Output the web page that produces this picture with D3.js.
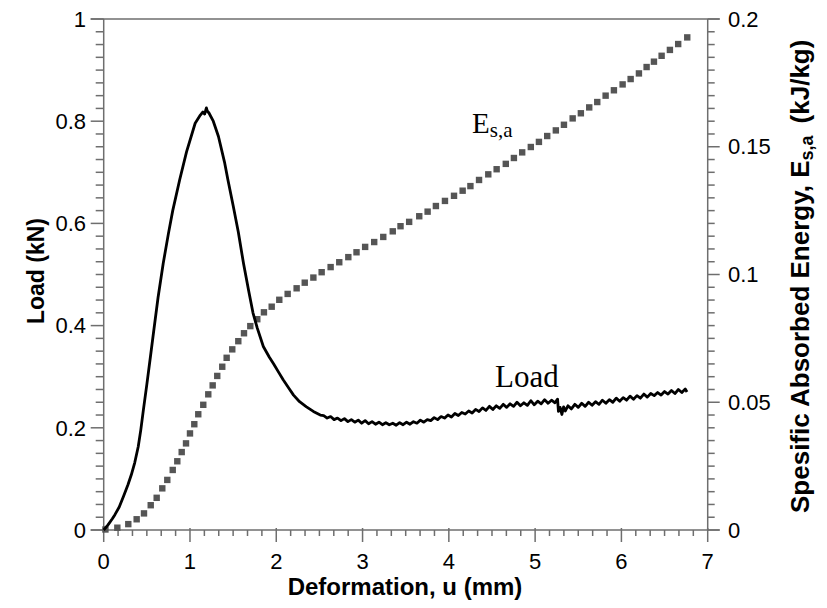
<!DOCTYPE html>
<html>
<head>
<meta charset="utf-8">
<script src="https://cdn.jsdelivr.net/npm/d3@7"></script>
<style>
  body { margin: 0; background: #fff; }
  .sans { font-family: Arial, "Liberation Sans", sans-serif; }
  .serif { font-family: "Times New Roman", "Liberation Serif", serif; }
</style>
</head>
<body>
<svg id="chart" width="827" height="608"></svg>
<script>
// load curve, deformation u (mm) vs load (kN)
const loadU = [0, 0.05, 0.1, 0.13, 0.18, 0.23, 0.28, 0.32, 0.36, 0.4, 0.43, 0.46, 0.5, 0.54, 0.58,
  0.63, 0.69, 0.75, 0.8, 0.88, 0.96, 1.06, 1.12, 1.15, 1.17, 1.19, 1.2, 1.22, 1.27, 1.33, 1.4, 1.44, 1.5,
  1.56, 1.62, 1.68, 1.73, 1.78, 1.85, 1.92, 1.97, 2.03, 2.08, 2.14, 2.2, 2.27, 2.35, 2.43, 2.51,
  2.55, 2.59, 2.63, 2.67, 2.71, 2.75, 2.79, 2.83, 2.87, 2.91, 2.95, 2.99, 3.03, 3.07, 3.11, 3.15, 3.19,
  3.23, 3.27, 3.31, 3.35, 3.39, 3.43, 3.47, 3.51, 3.55, 3.59, 3.63, 3.67, 3.71, 3.75, 3.79, 3.83, 3.87,
  3.91, 3.95, 3.99, 4.03, 4.07, 4.11, 4.15, 4.19, 4.23, 4.27, 4.31, 4.35, 4.39, 4.43, 4.47, 4.51, 4.55,
  4.59, 4.63, 4.67, 4.71, 4.75, 4.79, 4.83, 4.87, 4.91, 4.95, 4.99, 5.03, 5.07, 5.11, 5.15, 5.19, 5.23,
  5.26, 5.27, 5.29, 5.31, 5.33, 5.35, 5.38, 5.42, 5.46, 5.5, 5.54, 5.58, 5.62, 5.66, 5.7, 5.74, 5.78,
  5.82, 5.86, 5.9, 5.94, 5.98, 6.02, 6.06, 6.1, 6.14, 6.18, 6.22, 6.26, 6.3, 6.34, 6.38, 6.42, 6.46,
  6.5, 6.54, 6.58, 6.62, 6.66, 6.7, 6.74, 6.76];
const loadKN = [0, 0.01, 0.022, 0.03, 0.045, 0.066, 0.088, 0.108, 0.132, 0.163, 0.196, 0.235, 0.285, 0.337, 0.39,
  0.455, 0.522, 0.58, 0.625, 0.685, 0.74, 0.796, 0.812, 0.818, 0.814, 0.826, 0.82, 0.816, 0.8, 0.77, 0.72, 0.685, 0.635,
  0.583, 0.522, 0.468, 0.425, 0.395, 0.359, 0.338, 0.325, 0.308, 0.294, 0.279, 0.264, 0.251, 0.241, 0.232, 0.225,
  0.224, 0.219, 0.222, 0.216, 0.219, 0.214, 0.218, 0.212, 0.216, 0.211, 0.215, 0.209, 0.214, 0.208, 0.212, 0.207,
  0.211, 0.206, 0.21, 0.206, 0.209, 0.205, 0.21, 0.206, 0.211, 0.207, 0.212, 0.209, 0.215, 0.211, 0.216, 0.214,
  0.22, 0.216, 0.222, 0.219, 0.225, 0.221, 0.228, 0.224, 0.23, 0.227, 0.233, 0.229, 0.236, 0.232, 0.239, 0.234,
  0.242, 0.236, 0.243, 0.238, 0.246, 0.24, 0.247, 0.242, 0.25, 0.243, 0.249, 0.244, 0.253, 0.245, 0.252, 0.247,
  0.255, 0.248, 0.254, 0.249, 0.256, 0.232, 0.24, 0.226, 0.241, 0.233, 0.243, 0.237, 0.246, 0.24, 0.248, 0.242,
  0.25, 0.244, 0.251, 0.246, 0.254, 0.248, 0.255, 0.25, 0.258, 0.252, 0.259, 0.254, 0.262, 0.256, 0.263, 0.258,
  0.266, 0.26, 0.267, 0.263, 0.269, 0.264, 0.271, 0.266, 0.273, 0.267, 0.275, 0.269, 0.276, 0.27];

// specific absorbed energy markers, u (mm) vs E (kJ/kg)
const energyU = [0.02, 0.158, 0.285, 0.382, 0.467, 0.545, 0.614, 0.679, 0.737, 0.8, 0.853, 0.904, 0.954, 1.0,
  1.05, 1.096, 1.154, 1.212, 1.263, 1.316, 1.374, 1.425, 1.49, 1.56, 1.626, 1.699, 1.78, 1.857, 1.947, 2.035,
  2.132, 2.236, 2.33, 2.43, 2.526, 2.63, 2.73, 2.835, 2.93, 3.03, 3.135, 3.24, 3.35, 3.44, 3.54, 3.657, 3.754,
  3.85, 3.955, 4.06, 4.16, 4.25, 4.35, 4.457, 4.554, 4.66, 4.754, 4.85, 4.95, 5.044, 5.14, 5.24, 5.334, 5.435,
  5.53, 5.627, 5.72, 5.817, 5.913, 6.014, 6.107, 6.203, 6.292, 6.377, 6.466, 6.562, 6.658, 6.763];
const energyE = [0.0002, 0.0009, 0.0023, 0.0042, 0.0065, 0.0097, 0.0126, 0.0163, 0.0196, 0.0235, 0.0269, 0.0305,
  0.0339, 0.0378, 0.0414, 0.0453, 0.049, 0.0531, 0.0566, 0.0603, 0.0639, 0.0674, 0.0707, 0.0739, 0.077, 0.0798,
  0.0825, 0.0852, 0.0874, 0.0901, 0.0924, 0.0946, 0.0968, 0.0988, 0.1009, 0.1029, 0.1048, 0.1068, 0.1087, 0.1108,
  0.1127, 0.1147, 0.1169, 0.1189, 0.1206, 0.1228, 0.1246, 0.1268, 0.1288, 0.1308, 0.1328, 0.1346, 0.137, 0.1392,
  0.1412, 0.1433, 0.1456, 0.1478, 0.1499, 0.1519, 0.1542, 0.1564, 0.1586, 0.1611, 0.1631, 0.1654, 0.1675, 0.17,
  0.1721, 0.1744, 0.1765, 0.1787, 0.1812, 0.1833, 0.1856, 0.1879, 0.1902, 0.1928];

const xTicks = [0, 1, 2, 3, 4, 5, 6, 7];
const yLeftTicks = [0, 0.2, 0.4, 0.6, 0.8, 1];
const yRightTicks = [0, 0.05, 0.1, 0.15, 0.2];

const svg = d3.select('#chart');
const axisColor = '#6e6e6e';

// plot frame
const plotL = 103.7, plotR = 707.7, plotT = 19, plotB = 530;

const x = d3.scaleLinear().domain([0, 7]).range([plotL, plotR]);
const yL = d3.scaleLinear().domain([0, 1]).range([plotB, plotT]);
const yR = d3.scaleLinear().domain([0, 0.2]).range([plotB, plotT]);

// minor ticks
const xMinor = d3.range(0, 42).map(i => i / 6).filter((v, i) => i % 6 !== 0);
const yLMinor = d3.range(0, 40).map(i => i * 0.025).filter((v, i) => i % 8 !== 0);
const yRMinor = d3.range(0, 40).map(i => i * 0.005).filter((v, i) => i % 10 !== 0);

const axes = svg.append('g')
    .attr('stroke', axisColor)
    .attr('stroke-width', 1.5)
    .attr('fill', 'none');

// frame lines (left, right, top, bottom)
axes.append('line').attr('x1', plotL).attr('x2', plotL).attr('y1', plotT).attr('y2', plotB);
axes.append('line').attr('x1', plotR).attr('x2', plotR).attr('y1', plotT).attr('y2', plotB + 1);
axes.append('line').attr('x1', plotL - 13).attr('x2', plotR + 12).attr('y1', plotT).attr('y2', plotT);
axes.append('line').attr('x1', plotL - 13).attr('x2', plotR + 12).attr('y1', plotB).attr('y2', plotB);

// x ticks, pointing down
axes.selectAll('.xmaj').data(xTicks).join('line')
    .attr('x1', d => x(d)).attr('x2', d => x(d))
    .attr('y1', plotB - 2).attr('y2', plotB + 12);
axes.selectAll('.xmin').data(xMinor).join('line')
    .attr('x1', d => x(d)).attr('x2', d => x(d))
    .attr('y1', plotB).attr('y2', plotB + 6);

// left y ticks
axes.selectAll('.ylmaj').data(yLeftTicks).join('line')
    .attr('x1', plotL - 13).attr('x2', plotL)
    .attr('y1', d => yL(d)).attr('y2', d => yL(d));
axes.selectAll('.ylmin').data(yLMinor).join('line')
    .attr('x1', plotL - 8).attr('x2', plotL)
    .attr('y1', d => yL(d)).attr('y2', d => yL(d));

// right y ticks
axes.selectAll('.yrmaj').data(yRightTicks).join('line')
    .attr('x1', plotR).attr('x2', plotR + 12)
    .attr('y1', d => yR(d)).attr('y2', d => yR(d));
axes.selectAll('.yrmin').data(yRMinor).join('line')
    .attr('x1', plotR).attr('x2', plotR + 7)
    .attr('y1', d => yR(d)).attr('y2', d => yR(d));

// tick labels
const fmt = d => String(d);
svg.append('g').attr('class', 'sans').selectAll('text').data(xTicks).join('text')
    .attr('x', d => x(d)).attr('y', 569)
    .attr('text-anchor', 'middle')
    .attr('font-size', 22)
    .text(fmt);
svg.append('g').attr('class', 'sans').selectAll('text').data(yLeftTicks).join('text')
    .attr('x', 86).attr('y', d => yL(d))
    .attr('dy', '0.35em')
    .attr('text-anchor', 'end')
    .attr('font-size', 22)
    .text(fmt);
svg.append('g').attr('class', 'sans').selectAll('text').data(yRightTicks).join('text')
    .attr('x', 728).attr('y', d => yR(d))
    .attr('dy', '0.35em')
    .attr('text-anchor', 'start')
    .attr('font-size', 22)
    .text(fmt);

// axis titles
svg.append('text').attr('class', 'sans')
    .attr('x', 405).attr('y', 595)
    .attr('text-anchor', 'middle')
    .attr('font-size', 24).attr('font-weight', 'bold')
    .text('Deformation, u (mm)');

svg.append('text').attr('class', 'sans')
    .attr('transform', 'translate(44,271) rotate(-90)')
    .attr('text-anchor', 'middle')
    .attr('font-size', 23).attr('font-weight', 'bold')
    .text('Load (kN)');

const rt = svg.append('text').attr('class', 'sans')
    .attr('transform', 'translate(809,513) rotate(-90)')
    .attr('text-anchor', 'start')
    .attr('font-size', 26).attr('font-weight', 'bold');
rt.append('tspan').text('Spesific Absorbed Energy, E');
rt.append('tspan').attr('font-size', 18).attr('dy', 4).text('s,a');
rt.append('tspan').attr('dy', -4).attr('dx', 12).text('(kJ/kg)');

// energy markers
const pts = energyU.map((u, i) => [u, energyE[i]]);
svg.append('g').selectAll('rect').data(pts).join('rect')
    .attr('x', d => x(d[0]) - 3.2).attr('y', d => yR(d[1]) - 3.2)
    .attr('width', 6.4).attr('height', 6.4)
    .attr('fill', '#555');

// load line
const line = d3.line().x(d => x(d[0])).y(d => yL(d[1]));
svg.append('path')
    .datum(loadU.map((u, i) => [u, loadKN[i]]))
    .attr('d', line)
    .attr('fill', 'none')
    .attr('stroke', '#000')
    .attr('stroke-width', 2.8)
    .attr('stroke-linejoin', 'round');

// in-plot labels
const el = svg.append('text').attr('class', 'serif')
    .attr('x', 472).attr('y', 133)
    .attr('font-size', 29);
el.append('tspan').text('E');
el.append('tspan').attr('font-size', 21).attr('dy', 4).text('s,a');

svg.append('text').attr('class', 'serif')
    .attr('x', 495).attr('y', 387)
    .attr('font-size', 31)
    .text('Load');
</script>
</body>
</html>
